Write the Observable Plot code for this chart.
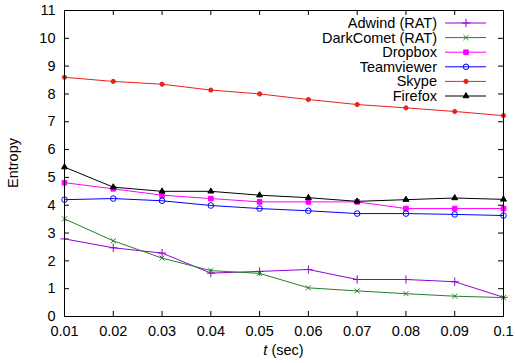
<!DOCTYPE html>
<html><head><meta charset="utf-8">
<script src="https://cdn.jsdelivr.net/npm/d3@7"></script>
<script src="https://cdn.jsdelivr.net/npm/@observablehq/plot@0.6"></script>
<style>
body{margin:0;background:#fff;}
#chart{position:relative;width:515px;height:363px;}
svg{font-family:"Liberation Sans",Arial,sans-serif;}
</style>
</head><body><div id="chart"></div>
<script>
const t = [0.01,0.02,0.03,0.04,0.05,0.06,0.07,0.08,0.09,0.1];
const seriesNames = ["Adwind (RAT)","DarkComet (RAT)","Dropbox","Teamviewer","Skype","Firefox"];
const adwind    = [2.79,2.47,2.28,1.56,1.62,1.69,1.33,1.33,1.25,0.69];
const darkcomet = [3.51,2.72,2.10,1.65,1.55,1.03,0.92,0.82,0.73,0.68];
const dropbox   = [4.81,4.59,4.36,4.24,4.12,4.12,4.12,3.88,3.88,3.88];
const teamviewer= [4.20,4.24,4.16,3.99,3.88,3.80,3.70,3.70,3.67,3.63];
const skype     = [8.60,8.45,8.35,8.14,8.00,7.80,7.62,7.50,7.37,7.22];
const firefox   = [5.37,4.65,4.50,4.50,4.36,4.27,4.14,4.20,4.26,4.21];
const xTicks = [0.01,0.02,0.03,0.04,0.05,0.06,0.07,0.08,0.09,0.1];
const xTickLabels = ["0.01","0.02","0.03","0.04","0.05","0.06","0.07","0.08","0.09","0.1"];
const yTicks = [0,1,2,3,4,5,6,7,8,9,10,11];

const values = [adwind,darkcomet,dropbox,teamviewer,skype,firefox];
const colors = ["#9400d3","#23802a","#ff00ff","#0000ff","#e8231c","#000000"];
const symbols = ["plus","times","square","circle","circle","triangle"];
const fills = ["none","none","currentColor","none","currentColor","currentColor"];
const radii = [2.8,2.4,2.6,2.8,2.1,2.2];

const W=515,H=363,mL=64,mR=12,mT=10,mB=47;
const pw=W-mL-mR, ph=H-mT-mB, tk=5;
const FS=14.5;

const marks = [];
seriesNames.forEach((name,i)=>{
  const data = t.map((x,j)=>({t:x,v:values[i][j]}));
  marks.push(Plot.line(data,{x:"t",y:"v",stroke:colors[i],strokeWidth:1}));
  marks.push(Plot.dot(data,{x:"t",y:"v",symbol:()=>symbols[i],r:radii[i],stroke:colors[i],fill:fills[i]==="none"?"none":colors[i],strokeWidth:1}));
});

const plot = Plot.plot({
  width:W,height:H,marginLeft:mL,marginRight:mR,marginTop:mT,marginBottom:mB,
  style:{fontFamily:"Liberation Sans, Arial, sans-serif",fontSize:FS+"px",color:"#000"},
  x:{domain:[0.01,0.1],label:null},
  y:{domain:[0,11],label:null},
  symbol:{type:"identity"},
  marks:[
    ...marks,
    Plot.ruleY(yTicks,{y:d=>d,insetRight:pw-tk,stroke:"#000"}),
    Plot.ruleY(yTicks,{y:d=>d,insetLeft:pw-tk,stroke:"#000"}),
    Plot.ruleX(xTicks,{x:d=>d,insetTop:ph-tk,stroke:"#000"}),
    Plot.ruleX(xTicks,{x:d=>d,insetBottom:ph-tk,stroke:"#000"}),
    Plot.axisY({ticks:yTicks,tickSize:0,tickPadding:9,fontSize:FS,label:null}),
    Plot.axisX({ticks:xTicks,tickSize:0,tickPadding:9,fontSize:FS,label:null,tickFormat:(d)=>xTickLabels[xTicks.indexOf(d)]}),
    Plot.frame({stroke:"#000",strokeWidth:1})
  ]
});
document.getElementById("chart").appendChild(plot);

const svg = d3.select(plot);
// axis labels
svg.append("text").attr("transform",`translate(18,${mT+ph/2}) rotate(-90)`)
  .attr("text-anchor","middle").attr("font-size",FS).attr("fill","#000").text("Entropy");
const xl = svg.append("text").attr("x",mL+pw/2).attr("y",355).attr("text-anchor","middle").attr("font-size",FS).attr("fill","#000");
xl.append("tspan").attr("font-style","italic").text("t");
xl.append("tspan").text(" (sec)");

// legend
const lg = svg.append("g");
seriesNames.forEach((name,i)=>{
  const y = 23 + i*14.6;
  lg.append("text").attr("x",437).attr("y",y).attr("dy","0.35em").attr("text-anchor","end")
    .attr("font-size",FS).attr("fill","#000").text(name);
  lg.append("line").attr("x1",445).attr("x2",486).attr("y1",y).attr("y2",y)
    .attr("stroke",colors[i]).attr("stroke-width",1);
  const sym = {plus:d3.symbolPlus,times:d3.symbolTimes,square:d3.symbolSquare,circle:d3.symbolCircle,triangle:d3.symbolTriangle}[symbols[i]];
  const r = radii[i];
  lg.append("path").attr("transform",`translate(466,${y})`)
    .attr("d",d3.symbol(sym, r*r*Math.PI)())
    .attr("stroke",colors[i]).attr("fill",fills[i]==="none"?"none":colors[i]).attr("stroke-width",1);
});
</script></body></html>
